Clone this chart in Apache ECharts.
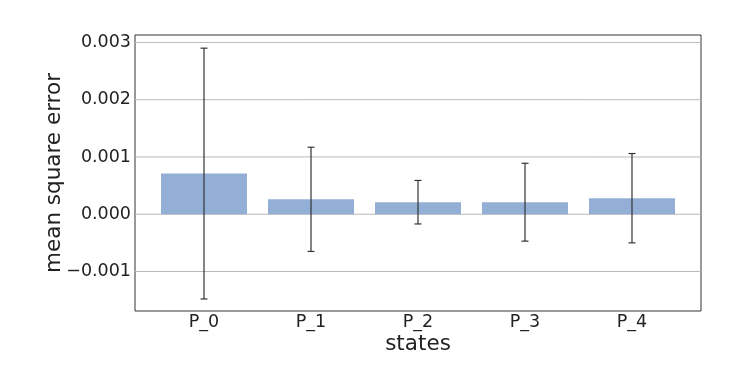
<!DOCTYPE html>
<html>
<head>
<meta charset="utf-8">
<script src="https://cdn.jsdelivr.net/npm/echarts@6/dist/echarts.min.js"></script>
<style>
  html, body { margin: 0; padding: 0; background: #fff; }
  #chart { width: 737px; height: 367px; }
</style>
</head>
<body>
<div id="chart"></div>
<script>
// states and their mean square error, with error bar half-lengths
const states = ['P_0', 'P_1', 'P_2', 'P_3', 'P_4'];
const mse = [0.00071, 0.00026, 0.00021, 0.00021, 0.00028];
const errs = [0.00219, 0.00091, 0.00038, 0.00068, 0.00078];
const yTicks = [-0.001, 0.000, 0.001, 0.002, 0.003];
const xTicks = [0, 1, 2, 3, 4];

const fmt = v => {
  const s = Math.abs(v).toFixed(3);
  return v < -1e-9 ? '\u2212' + s : s;
};

const chart = echarts.init(document.getElementById('chart'));

chart.setOption({
  animation: false,
  textStyle: { fontFamily: 'DejaVu Sans' },
  grid: {
    left: 135, right: 36, top: 35, bottom: 56,
    show: true, borderColor: '#333', borderWidth: 1
  },
  xAxis: {
    type: 'value',
    min: -0.645,
    max: 4.645,
    name: 'states',
    nameLocation: 'middle',
    nameGap: 22,
    nameMoveOverlap: false,
    nameTextStyle: { fontSize: 21.5, color: '#222' },
    axisLine: { show: false },
    axisTick: { show: false, customValues: xTicks },
    splitLine: { show: false },
    axisLabel: {
      customValues: xTicks,
      formatter: v => states[Math.round(v)],
      fontSize: 17.5, color: '#222', margin: 2
    }
  },
  yAxis: {
    type: 'value',
    min: -0.00169,
    max: 0.00313,
    name: 'mean square error',
    nameLocation: 'middle',
    nameGap: 70,
    nameMoveOverlap: false,
    nameTextStyle: { fontSize: 21.5, color: '#222' },
    axisLine: { show: false },
    axisTick: { show: false, customValues: yTicks },
    splitLine: { show: false },
    axisLabel: {
      customValues: yTicks,
      formatter: fmt,
      fontSize: 17.5, color: '#222', margin: 4
    }
  },
  series: [
    {
      // horizontal grid lines at the y ticks
      type: 'custom',
      silent: true,
      z: 1,
      data: yTicks.map(t => [0, t]),
      renderItem: (params, api) => {
        const y = api.coord([0, api.value(1)])[1];
        const cs = params.coordSys;
        return {
          type: 'line',
          shape: { x1: cs.x, y1: y, x2: cs.x + cs.width, y2: y },
          style: { stroke: '#b8b8b8', lineWidth: 1 }
        };
      }
    },
    {
      type: 'bar',
      barWidth: 86,
      itemStyle: { color: '#93afd6' },
      data: mse.map((v, i) => [i, v]),
      z: 2
    },
    {
      type: 'custom',
      z: 3,
      data: mse.map((v, i) => [i, v - errs[i], v + errs[i]]),
      renderItem: (params, api) => {
        const x = api.value(0);
        const lo = api.coord([x, api.value(1)]);
        const hi = api.coord([x, api.value(2)]);
        const cap = 3.5;
        const style = { stroke: '#333', lineWidth: 1.2 };
        return {
          type: 'group',
          children: [
            { type: 'line', shape: { x1: lo[0], y1: lo[1], x2: hi[0], y2: hi[1] }, style },
            { type: 'line', shape: { x1: lo[0] - cap, y1: lo[1], x2: lo[0] + cap, y2: lo[1] }, style },
            { type: 'line', shape: { x1: hi[0] - cap, y1: hi[1], x2: hi[0] + cap, y2: hi[1] }, style }
          ]
        };
      }
    }
  ]
});
</script>
</body>
</html>
